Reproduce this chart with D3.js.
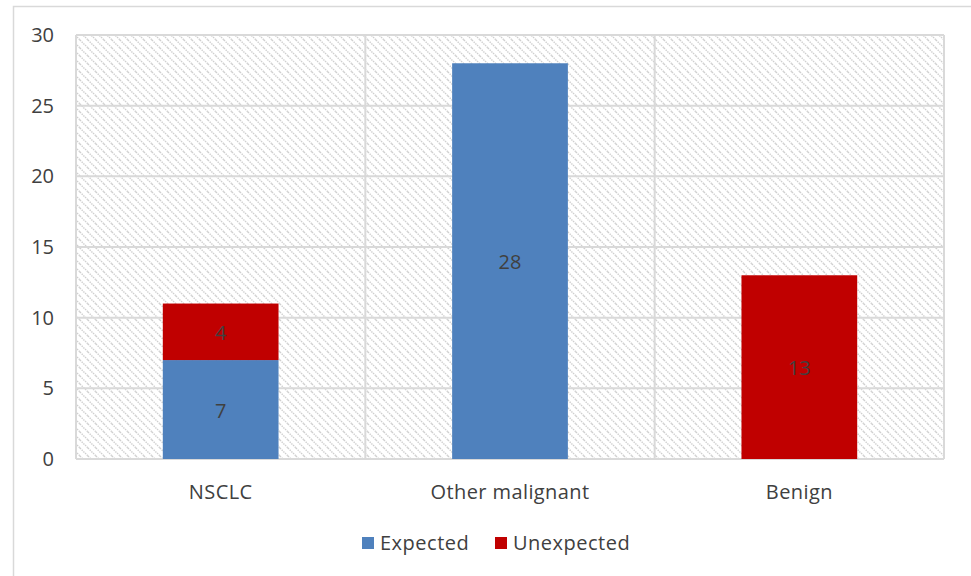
<!DOCTYPE html>
<html><head><meta charset="utf-8">
<script src="https://cdn.jsdelivr.net/npm/d3@7"></script>
<style>body{margin:0;background:#fff}svg{display:block}</style>
</head><body>
<script>
const categories = ["NSCLC", "Other malignant", "Benign"];
const expected = [7, 28, 0];
const unexpected = [4, 0, 13];
const yTicks = [0, 5, 10, 15, 20, 25, 30];
const seriesNames = ["Expected", "Unexpected"];
const colors = ["#4f81bd", "#c00000"];

const W = 971, H = 576;
const m = {left: 76, right: 27, top: 35, bottom: 117};
const svg = d3.select("body").append("svg").attr("width", W).attr("height", H);
const font = "'Open Sans', sans-serif";
const fs = 20;

// outer frame
svg.append("rect").attr("x", 13.5).attr("y", 6.5).attr("width", W).attr("height", H)
  .attr("fill", "#fff").attr("stroke", "#d9d9d9").attr("stroke-width", 1.5);

const defs = svg.append("defs");
const pat = defs.append("pattern").attr("id", "hatch").attr("patternUnits", "userSpaceOnUse")
  .attr("width", 8).attr("height", 8);
pat.append("rect").attr("width", 8).attr("height", 8).attr("fill", "#fff");
pat.append("path").attr("d", "M0,0 L8,8 M-4,4 L4,12 M4,-4 L12,4")
  .attr("stroke", "#cfcfcf").attr("stroke-width", 1.4).attr("stroke-dasharray", "1.4,1");

const x = d3.scaleBand().domain(categories).range([m.left, W - m.right]).paddingInner(0).paddingOuter(0);
const y = d3.scaleLinear().domain([0, 30]).range([H - m.bottom, m.top]);

svg.append("rect").attr("x", m.left).attr("y", m.top).attr("width", W - m.right - m.left)
  .attr("height", H - m.bottom - m.top).attr("fill", "url(#hatch)");

// horizontal grid
svg.append("g").selectAll("line").data(yTicks).join("line")
  .attr("x1", m.left).attr("x2", W - m.right).attr("y1", d => y(d)).attr("y2", d => y(d))
  .attr("stroke", "#d9d9d9").attr("stroke-width", 2);
// vertical grid at category boundaries
const bounds = categories.map(c => x(c)).concat([x(categories[categories.length - 1]) + x.bandwidth()]);
svg.append("g").selectAll("line").data(bounds).join("line")
  .attr("x1", d => d).attr("x2", d => d).attr("y1", m.top).attr("y2", H - m.bottom)
  .attr("stroke", "#d9d9d9").attr("stroke-width", 2);

// y axis labels
const yAxis = d3.axisLeft(y).tickValues(yTicks).tickSize(0).tickPadding(22);
const ya = svg.append("g").attr("transform", `translate(${m.left},0)`).call(yAxis);
ya.select(".domain").remove();
ya.selectAll("text").attr("font-family", font).attr("font-size", fs).attr("fill", "#404040");

// x axis labels
const xAxis = d3.axisBottom(x).tickSize(0).tickPadding(26);
const xa = svg.append("g").attr("transform", `translate(0,${H - m.bottom})`).call(xAxis);
xa.select(".domain").remove();
xa.selectAll("text").attr("font-family", font).attr("font-size", fs).attr("fill", "#404040")
  .attr("letter-spacing", "0.4px");

// stacked bars
const rows = categories.map((c, i) => ({cat: c, Expected: expected[i], Unexpected: unexpected[i]}));
const stack = d3.stack().keys(seriesNames)(rows);
const barW = x.bandwidth() * 0.4;
const gBars = svg.append("g");
stack.forEach((s, si) => {
  s.forEach(d => {
    const v = d[1] - d[0];
    if (v <= 0) return;
    const cx = x(d.data.cat) + x.bandwidth() / 2;
    gBars.append("rect").attr("x", cx - barW / 2).attr("width", barW)
      .attr("y", y(d[1])).attr("height", y(d[0]) - y(d[1])).attr("fill", colors[si]);
    gBars.append("text").attr("x", cx).attr("y", (y(d[0]) + y(d[1])) / 2 + 1)
      .attr("dy", "0.35em").attr("text-anchor", "middle")
      .attr("font-family", font).attr("font-size", fs).attr("fill", "#404040").text(v);
  });
});

// legend
const legend = svg.append("g");
const legItems = [{name: "Expected", x: 362}, {name: "Unexpected", x: 495}];
legItems.forEach((it, i) => {
  legend.append("rect").attr("x", it.x).attr("y", 537).attr("width", 12).attr("height", 12).attr("fill", colors[i]);
  legend.append("text").attr("x", it.x + 18).attr("y", 543).attr("dy", "0.35em")
    .attr("font-family", font).attr("font-size", fs).attr("fill", "#404040")
    .attr("letter-spacing", "0.5px").text(it.name);
});
</script>
</body></html>
